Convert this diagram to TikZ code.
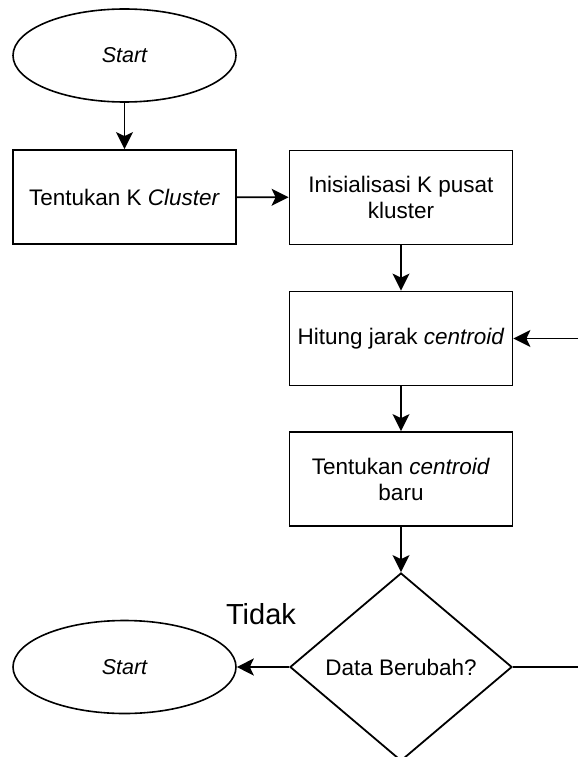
\documentclass[tikz,border=0pt]{standalone}
\usepackage{fontspec}
\setmainfont{Liberation Sans}
\usetikzlibrary{shapes.geometric, arrows.meta}

\begin{document}
\begin{tikzpicture}[x=1pt, y=-1pt,
		font=\fontsize{22.5}{26}\selectfont,
		proses/.style={draw, rectangle, line width=1.8pt, minimum width=223, minimum height=94, inner sep=0, align=center},
		terminal/.style={draw, ellipse, line width=1.6pt, minimum width=223, minimum height=93, inner sep=0, font=\fontsize{21.5}{25}\selectfont\itshape},
		keputusan/.style={draw, diamond, line width=1.8pt, minimum width=222, minimum height=188, inner sep=0},
		alir/.style={-{Stealth[length=17pt, width=17pt, inset=4pt]}, line width=1.8pt},
		garis/.style={line width=1.8pt}]
			\useasboundingbox (0,0) rectangle (578,757);
			\node (mulai) [terminal] at (124.5,55.5) {Start};
			\node (tentukanK) [proses] at (124.5,197) {Tentukan K \emph{Cluster}};
			\node (inisial) [proses] at (401,197.5) {Inisialisasi K pusat\\kluster};
			\node (hitung) [proses] at (401,338.5) {Hitung jarak \emph{centroid}};
			\node (baru) [proses] at (401,479) {Tentukan \emph{centroid}\\baru};
			\node (cek) [keputusan] at (401,667) {Data Berubah?};
			\node (selesai) [terminal] at (124.5,667) {Start};
			\node (tidak) [font=\fontsize{29}{33}\selectfont] at (261,614) {Tidak};
			\coordinate (masuk) at (578,338.5);
			\coordinate (keluar) at (578,667);
			\draw[alir] (mulai) -- (tentukanK);
			\draw[alir] (tentukanK) -- (inisial);
			\draw[alir] (inisial) -- (hitung);
			\draw[alir] (hitung) -- (baru);
			\draw[alir] (baru) -- (cek);
			\draw[alir] (cek) -- (selesai);
			\draw[alir] (masuk) -- (hitung);
			\draw[garis] (cek) -- (keluar);
		\end{tikzpicture}
\end{document}
